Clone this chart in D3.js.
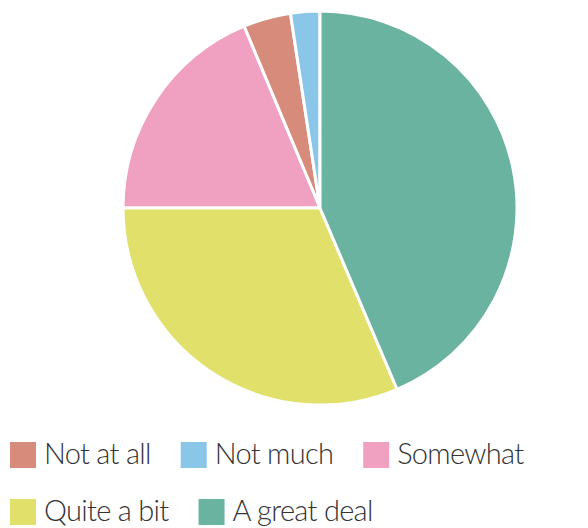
<!DOCTYPE html>
<html>
<head>
<meta charset="utf-8">
<script src="https://cdn.jsdelivr.net/npm/d3@7"></script>
<style>
  html, body { margin: 0; padding: 0; background: #fff; }
  svg { display: block; }
</style>
</head>
<body>
<svg id="fig"></svg>
<script>
const categories = ['Not at all', 'Not much', 'Somewhat', 'Quite a bit', 'A great deal'];
const values = [3.9, 2.4, 18.7, 31.4, 43.6];
const colors = ['#d68b7b', '#8ac6e8', '#f0a0c1', '#e0e06a', '#69b3a0'];

const width = 588, height = 528;
const cx = 320, cy = 208, radius = 197;

const svg = d3.select('#fig')
    .attr('width', width)
    .attr('height', height);

const data = categories.map((c, i) => ({ label: c, value: values[i] }));

const color = d3.scaleOrdinal()
    .domain(categories)
    .range(colors);

// default pie sort is by value, descending, clockwise from 12 o'clock
const pie = d3.pie().value(d => d.value);
const arc = d3.arc().innerRadius(0).outerRadius(radius);

const g = svg.append('g')
    .attr('transform', `translate(${cx},${cy})`);

g.selectAll('path').data(pie(data))
    .enter().append('path')
    .attr('d', arc)
    .attr('fill', d => color(d.data.label))
    .attr('stroke', '#fff')
    .attr('stroke-width', 3)
    .attr('stroke-linejoin', 'round');

// legend, flowing left to right and wrapping
const box = 26, gapText = 8, gapItem = 30, rowH = 57;
const legend = svg.append('g');
let x = 10, y = 442;
categories.forEach((c, i) => {
    const item = legend.append('g');
    item.append('rect')
        .attr('width', box)
        .attr('height', box)
        .attr('fill', color(c));
    const t = item.append('text')
        .attr('x', box + gapText)
        .attr('y', 22)
        .attr('fill', '#333')
        .style('font-family', 'Lato, sans-serif')
        .style('font-weight', 300)
        .style('font-size', '29px')
        .style('letter-spacing', '-0.7px')
        .text(c);
    const w = box + gapText + t.node().getComputedTextLength();
    if (x + w > width - 4 && x > 10) {
        x = 10;
        y += rowH;
    }
    item.attr('transform', `translate(${x},${y})`);
    x += w + gapItem;
});
</script>
</body>
</html>
